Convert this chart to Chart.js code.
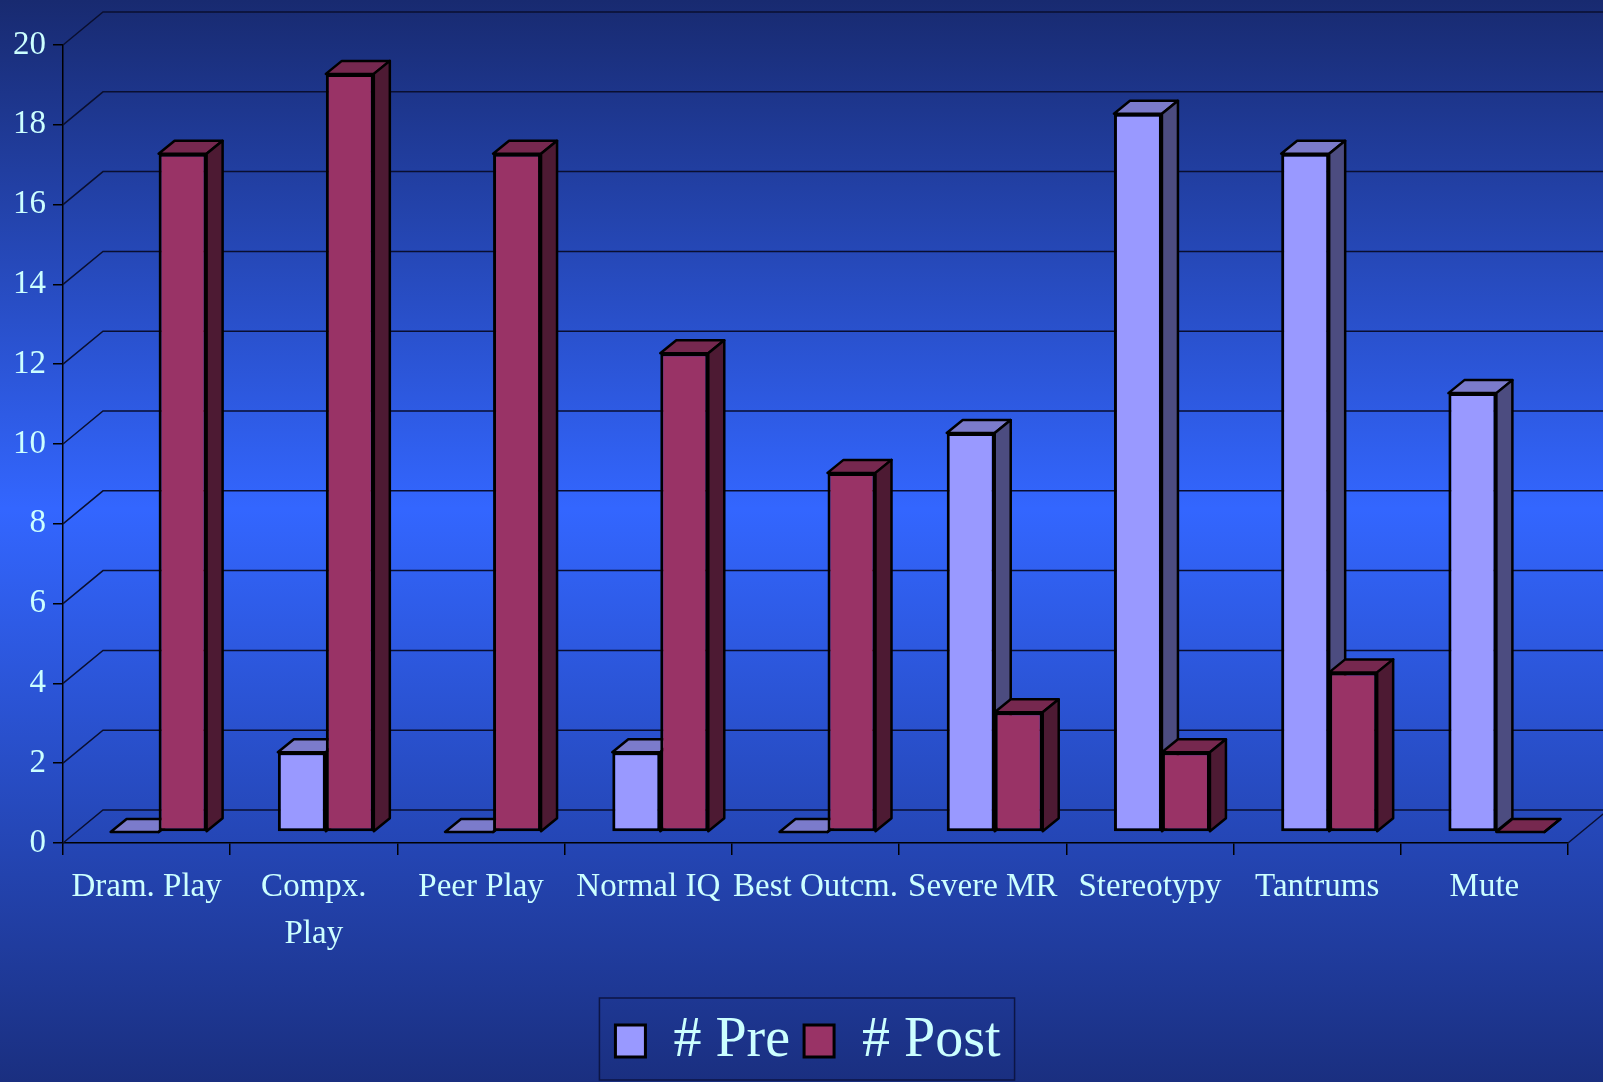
<!DOCTYPE html>
<html>
<head>
<meta charset="utf-8">
<script src="https://cdn.jsdelivr.net/npm/chart.js@4"></script>
<style>
  html, body { margin: 0; padding: 0; background: #1a2f80; }
  canvas { display: block; }
</style>
</head>
<body>
<canvas id="chart" width="1603" height="1082"></canvas>
<script>
// data
const categories = ['Dram. Play', ['Compx.', 'Play'], 'Peer Play', 'Normal IQ', 'Best Outcm.', 'Severe MR', 'Stereotypy', 'Tantrums', 'Mute'];
const preValues = [0, 2, 0, 2, 0, 10, 18, 17, 11];
const postValues = [17, 19, 17, 12, 9, 3, 2, 4, 0];
const seriesNames = ['# Pre', '# Post'];
const yMin = 0;
const yMax = 20;
const yStep = 2;

// face colours: front / top / side
const preFaces = ['#9999ff', '#7b7bcb', '#4c4c80'];
const postFaces = ['#993366', '#76284f', '#4d1a33'];

const textColor = '#ccffff';
const WALL = { dx: 40, dy: -33 };
const BAR = { dx: 12, dy: -11, depthX: 16, depthY: -13 };
const LEGEND_SHIFT = 24;
const LEGEND_FONT = 56;
const LEGEND_PAD = 14;

Chart.defaults.font.family = "'Liberation Serif', serif";

function poly(ctx, pts, fill) {
  ctx.beginPath();
  ctx.moveTo(pts[0][0], pts[0][1]);
  for (let i = 1; i < pts.length; i++) ctx.lineTo(pts[i][0], pts[i][1]);
  ctx.closePath();
  ctx.fillStyle = fill;
  ctx.fill();
  ctx.stroke();
}

const threeD = {
  id: 'threeD',
  afterLayout(chart) {
    // the legend box sits a little right of centre in the original
    chart.legend.left += LEGEND_SHIFT;
    chart.legend.right += LEGEND_SHIFT;
  },
  beforeDraw(chart) {
    const { ctx, width, height } = chart;
    const g = ctx.createLinearGradient(0, 0, 0, height);
    g.addColorStop(0, '#182a70');
    g.addColorStop(0.47, '#3366ff');
    g.addColorStop(1, '#1a2f80');
    ctx.save();
    ctx.fillStyle = g;
    ctx.fillRect(0, 0, width, height);
    ctx.restore();
  },
  beforeDatasetsDraw(chart) {
    const { ctx, chartArea: a, scales: { y } } = chart;
    // back wall + side wall grid
    ctx.save();
    ctx.strokeStyle = '#0a0f30';
    ctx.lineWidth = 1.5;
    y.ticks.forEach(t => {
      const py = y.getPixelForValue(t.value);
      ctx.beginPath();
      ctx.moveTo(a.left, py);
      ctx.lineTo(a.left + WALL.dx, py + WALL.dy);
      ctx.lineTo(chart.width, py + WALL.dy);
      ctx.stroke();
    });
    ctx.beginPath();
    ctx.moveTo(a.right, a.bottom);
    ctx.lineTo(a.right + WALL.dx, a.bottom + WALL.dy);
    ctx.stroke();
    ctx.restore();

    // bars sit half way into the depth; restored in afterDatasetsDraw
    ctx.save();
    ctx.translate(BAR.dx, BAR.dy);
    ctx.strokeStyle = '#000';
    ctx.lineWidth = 2.5;
    ctx.lineJoin = 'round';
    chart.data.datasets.forEach((ds, di) => {
      const faces = ds.faces;
      chart.getDatasetMeta(di).data.forEach(el => {
        const { x, y: top, width } = el.getProps(['x', 'y', 'width'], true);
        const base = el.base;
        const l = x - width / 2, r = x + width / 2;
        const dx = BAR.depthX, dy = BAR.depthY;
        poly(ctx, [[l, top], [r, top], [r + dx, top + dy], [l + dx, top + dy]], faces[1]);
        poly(ctx, [[r, top], [r + dx, top + dy], [r + dx, base + dy], [r, base]], faces[2]);
      });
    });
  },
  afterDatasetsDraw(chart) {
    chart.ctx.restore();
  },
  afterDraw(chart) {
    // frame round the legend row
    const lg = chart.legend;
    const rowW = lg.lineWidths && lg.lineWidths[0];
    if (!rowW) return;
    const startX = (lg.left + LEGEND_PAD + lg.right - rowW) / 2;
    const rowTop = lg.top + LEGEND_PAD;
    const left = startX - 16;
    const right = startX + rowW - LEGEND_PAD + 14;
    const top = rowTop - 15;
    const bottom = rowTop + LEGEND_FONT + 11;
    const { ctx } = chart;
    ctx.save();
    ctx.strokeStyle = '#0c1545';
    ctx.lineWidth = 1.5;
    ctx.strokeRect(left, top, right - left, bottom - top);
    ctx.restore();
  }
};

new Chart(document.getElementById('chart'), {
  type: 'bar',
  data: {
    labels: categories,
    datasets: [
      {
        label: seriesNames[0],
        data: preValues,
        faces: preFaces,
        backgroundColor: preFaces[0],
        borderColor: '#000',
        borderWidth: 3,
        borderSkipped: false,
        clip: false
      },
      {
        label: seriesNames[1],
        data: postValues,
        faces: postFaces,
        backgroundColor: postFaces[0],
        borderColor: '#000',
        borderWidth: 3,
        borderSkipped: false,
        clip: false
      }
    ]
  },
  options: {
    responsive: false,
    animation: false,
    events: [],
    layout: { padding: { top: 45, right: 35, bottom: 3, left: 0 } },
    datasets: {
      bar: { categoryPercentage: 0.574, barPercentage: 1 }
    },
    scales: {
      x: {
        grid: { drawOnChartArea: false, drawTicks: true, tickLength: 12, color: '#000', lineWidth: 1.5, offset: true },
        border: { display: true, color: '#000', width: 1.5 },
        ticks: {
          color: textColor,
          font: { size: 33, lineHeight: 1.42 },
          padding: 9,
          autoSkip: false,
          maxRotation: 0,
          minRotation: 0
        },
        afterFit(scale) { scale.height = 156; }
      },
      y: {
        min: yMin,
        max: yMax,
        grid: { drawOnChartArea: false, drawTicks: true, tickLength: 10, color: '#000', lineWidth: 1.5 },
        border: { display: true, color: '#000', width: 1.5 },
        ticks: {
          stepSize: yStep,
          color: textColor,
          font: { size: 33 },
          padding: 7
        },
        afterFit(scale) { scale.width = 63; }
      }
    },
    plugins: {
      tooltip: { enabled: false },
      legend: {
        position: 'bottom',
        labels: {
          color: textColor,
          font: { size: LEGEND_FONT },
          boxWidth: 30,
          boxHeight: 32,
          padding: LEGEND_PAD
        }
      }
    }
  },
  plugins: [threeD]
});
</script>
</body>
</html>
